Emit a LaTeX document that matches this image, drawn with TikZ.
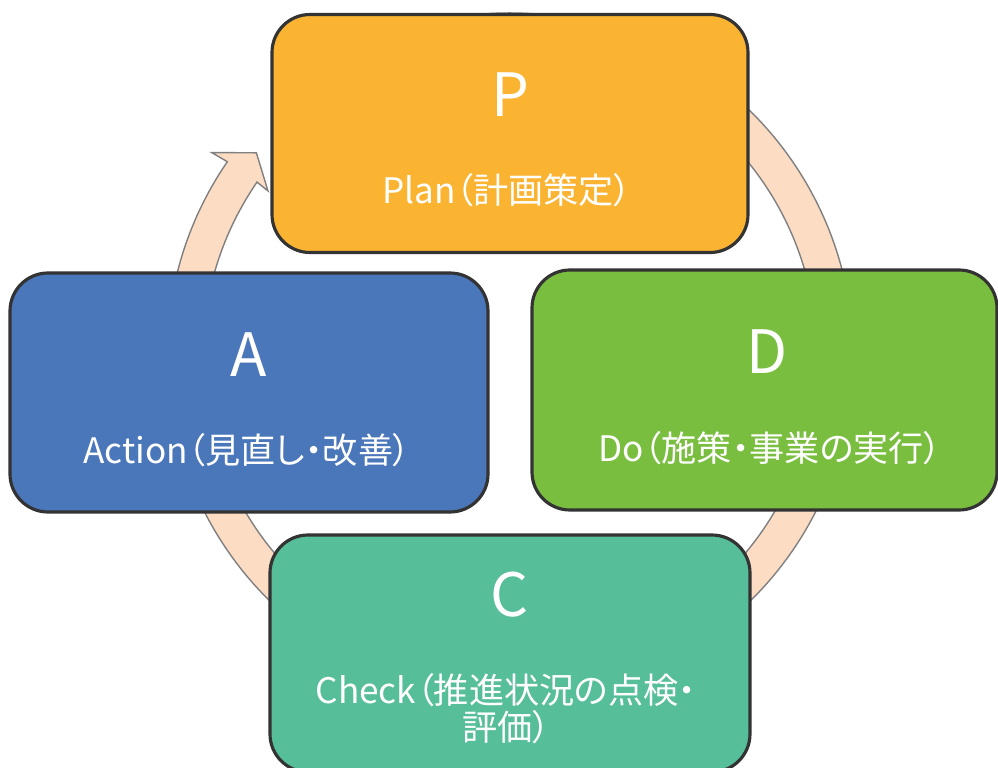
\documentclass[tikz,border=0pt]{standalone}
\usepackage{fontspec}
\setmainfont[RawFeature=+palt]{Noto Sans CJK JP}
\usepackage{tikz}

\definecolor{planc}{RGB}{250,180,50}
\definecolor{doc}{RGB}{122,190,64}
\definecolor{checkc}{RGB}{86,190,152}
\definecolor{actc}{RGB}{74,118,186}
\definecolor{ringc}{RGB}{252,221,196}

\begin{document}
\begin{tikzpicture}[
    box/.style={draw=black!80, line width=0.9pt, rounded corners=0.38cm,
      minimum width=4.76cm, minimum height=2.38cm, inner sep=0pt},
    letter/.style={text=white, font=\fontsize{17}{20}\selectfont},
    label/.style={text=white, font=\fontsize{10}{10.6}\selectfont, align=center}
  ]
  \useasboundingbox (0,0) rectangle (9.98,7.67);

  % Cycle arrow behind the boxes
  \begin{scope}[shift={(5.10,4.11)}]
    \filldraw[fill=ringc, draw=black!50, line width=0.4pt]
      (120:3.43) arc[start angle=120, end angle=-214.5, radius=3.43]
      -- (145.7:3.61) -- (141.3:3.25) -- (145.7:2.93) -- (145.5:3.07)
      arc[start angle=-214.5, end angle=120, radius=3.07] -- cycle;
  \end{scope}

  % Boxes
  \node[box, fill=planc] (plan) at (5.10,6.335) {};
  \node[box, fill=actc, minimum width=4.78cm, minimum height=2.39cm] (act) at (2.49,3.745) {};
  \node[box, fill=doc, minimum width=4.65cm, minimum height=2.40cm] (do) at (7.645,3.77) {};
  \node[box, fill=checkc, minimum width=4.80cm, minimum height=2.37cm] (check) at (5.10,1.135) {};

  % Letters
  \node[letter] (planl) at (5.10,6.72) {P};
  \node[letter] (actl) at (2.49,4.12) {A};
  \node[letter] (dol) at (7.67,4.15) {D};
  \node[letter] (checkl) at (5.10,1.72) {C};

  % Labels
  \node[label] (plant) at (5.07,5.77) {Plan（計画策定）};
  \node[label] (actt) at (2.47,3.17) {Action（見直し・改善）};
  \node[label] (dot) at (7.70,3.19) {Do（施策・事業の実行）};
  \node[label, text width=4.3cm] (checkt) at (5.06,0.585) {Check（推進状況の点検・\\評価）};
\end{tikzpicture}
\end{document}
